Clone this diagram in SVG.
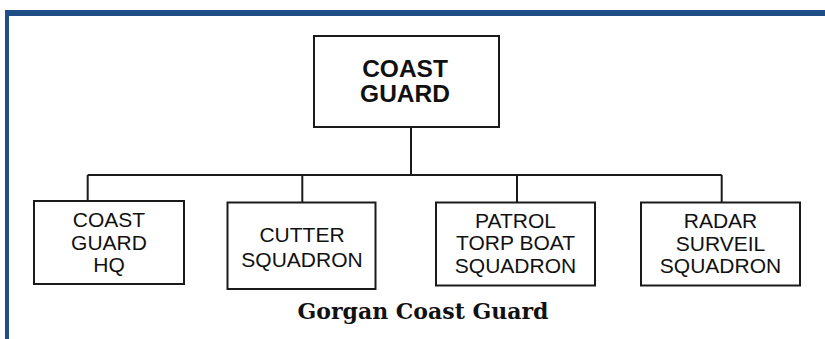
<svg xmlns="http://www.w3.org/2000/svg" width="825" height="339" viewBox="0 0 825 339">
<style>
.box{fill:#fff;stroke:#1a1a1a;stroke-width:2}
.ln{stroke:#1a1a1a;stroke-width:2;fill:none}
.t{font-family:"Liberation Sans",Arial,sans-serif;font-size:21px;fill:#111;text-anchor:middle}
.tb{font-family:"Liberation Sans",Arial,sans-serif;font-size:24.5px;font-weight:bold;fill:#111;text-anchor:middle}
.cap{font-family:"DejaVu Serif",serif;font-size:22px;font-weight:bold;fill:#111;text-anchor:middle}
</style>
<rect x="0" y="0" width="825" height="339" fill="#fff"/>
<g id="frame">
<rect x="5" y="10" width="820" height="6" fill="#1F4E86"/>
<rect x="5" y="10" width="4" height="329" fill="#1F4E86"/>
</g>
<g id="connectors">
<line class="ln" x1="411" y1="127" x2="411" y2="175"/>
<line class="ln" x1="87.7" y1="175" x2="721.7" y2="175"/>
<line class="ln" x1="87.7" y1="175" x2="87.7" y2="201"/>
<line class="ln" x1="302.3" y1="175" x2="302.3" y2="202"/>
<line class="ln" x1="517" y1="175" x2="517" y2="202"/>
<line class="ln" x1="721.7" y1="175" x2="721.7" y2="202"/>
</g>
<g id="coast-guard">
<rect class="box" x="314" y="36" width="185" height="91"/>
<text class="tb" x="405" y="77">COAST</text>
<text class="tb" x="405" y="102">GUARD</text>
</g>
<g id="coast-guard-hq">
<rect class="box" x="34" y="201" width="150" height="83"/>
<text class="t" x="109" y="227">COAST</text>
<text class="t" x="109" y="249.5">GUARD</text>
<text class="t" x="109" y="272">HQ</text>
</g>
<g id="cutter-squadron">
<rect class="box" x="227.5" y="202.5" width="148" height="86.5"/>
<text class="t" x="302" y="241.5">CUTTER</text>
<text class="t" x="302" y="267">SQUADRON</text>
</g>
<g id="patrol-torp-boat-squadron">
<rect class="box" x="436" y="202.5" width="159" height="83"/>
<text class="t" x="515.5" y="227.5">PATROL</text>
<text class="t" x="515.5" y="250">TORP BOAT</text>
<text class="t" x="515.5" y="272.5">SQUADRON</text>
</g>
<g id="radar-surveil-squadron">
<rect class="box" x="641" y="202.5" width="159" height="83"/>
<text class="t" x="720.5" y="228">RADAR</text>
<text class="t" x="720.5" y="250.5">SURVEIL</text>
<text class="t" x="720.5" y="273">SQUADRON</text>
</g>
<text class="cap" x="423" y="319">Gorgan Coast Guard</text>
</svg>
